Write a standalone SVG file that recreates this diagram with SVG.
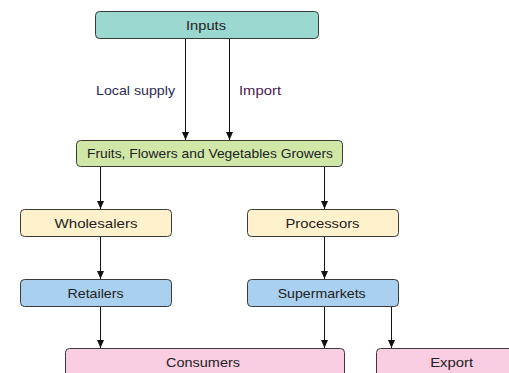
<svg xmlns="http://www.w3.org/2000/svg" width="509" height="373" viewBox="0 0 509 373">
<defs>
<marker id="arr" markerUnits="userSpaceOnUse" markerWidth="8" markerHeight="8" viewBox="0 0 8 8" refX="8" refY="4" orient="auto">
<path d="M0,0.5 L8,4 L0,7.5 Z" fill="#111"/>
</marker>
<style>
.box{stroke:#3a3a3a;stroke-width:1}
.t{font-family:"Liberation Sans",Arial,sans-serif;font-size:13px;fill:#222;text-anchor:middle}
.lbl{font-family:"Liberation Sans",Arial,sans-serif;font-size:13px}
.c{stroke:#111;stroke-width:1;fill:none;marker-end:url(#arr)}
</style>
</defs>
<rect width="509" height="373" fill="#fff"/>
<g id="connectors">
<line class="c" x1="185.5" y1="38.5" x2="185.5" y2="140"/>
<line class="c" x1="229.5" y1="38.5" x2="229.5" y2="140"/>
<line class="c" x1="100.5" y1="166.5" x2="100.5" y2="209"/>
<line class="c" x1="324.5" y1="166.5" x2="324.5" y2="209"/>
<line class="c" x1="100.5" y1="236.5" x2="100.5" y2="279"/>
<line class="c" x1="324.5" y1="236.5" x2="324.5" y2="279"/>
<line class="c" x1="100.5" y1="306.5" x2="100.5" y2="348"/>
<line class="c" x1="324.5" y1="306.5" x2="324.5" y2="348"/>
<line class="c" x1="391.5" y1="306.5" x2="391.5" y2="348"/>
<text class="lbl" x="96" y="94.5" fill="#2b2b55" textLength="79" lengthAdjust="spacingAndGlyphs">Local supply</text>
<text class="lbl" x="239" y="94.5" fill="#4a2050" textLength="42" lengthAdjust="spacingAndGlyphs">Import</text>
</g>
<g id="inputs">
<rect class="box" x="95.5" y="11.5" width="223" height="27" rx="4" fill="#9bd8cf"/>
<text class="t" x="206" y="29.7" textLength="40" lengthAdjust="spacingAndGlyphs">Inputs</text>
</g>
<g id="growers">
<rect class="box" x="76.5" y="140.5" width="266" height="26" rx="4" fill="#d1e7a8"/>
<text class="t" x="210" y="158" textLength="246" lengthAdjust="spacingAndGlyphs">Fruits, Flowers and Vegetables Growers</text>
</g>
<g id="wholesalers">
<rect class="box" x="20.5" y="209.5" width="151" height="27" rx="4" fill="#fff1cc"/>
<text class="t" x="96" y="227.5" textLength="83" lengthAdjust="spacingAndGlyphs">Wholesalers</text>
</g>
<g id="processors">
<rect class="box" x="247.5" y="209.5" width="151" height="27" rx="4" fill="#fff1cc"/>
<text class="t" x="322.5" y="227.5" textLength="74" lengthAdjust="spacingAndGlyphs">Processors</text>
</g>
<g id="retailers">
<rect class="box" x="20.5" y="279.5" width="151" height="27" rx="4" fill="#a9d0ef"/>
<text class="t" x="95.5" y="297.5" textLength="56" lengthAdjust="spacingAndGlyphs">Retailers</text>
</g>
<g id="supermarkets">
<rect class="box" x="247.5" y="279.5" width="151" height="27" rx="4" fill="#a9d0ef"/>
<text class="t" x="321.7" y="297.5" textLength="88" lengthAdjust="spacingAndGlyphs">Supermarkets</text>
</g>
<g id="consumers">
<rect class="box" x="65.5" y="348.5" width="279" height="40" rx="4" fill="#f9cde2"/>
<text class="t" x="203" y="366.5" textLength="74" lengthAdjust="spacingAndGlyphs">Consumers</text>
</g>
<g id="export">
<rect class="box" x="376.5" y="348.5" width="152" height="40" rx="4" fill="#f9cde2"/>
<text class="t" x="451.7" y="366.5" textLength="43" lengthAdjust="spacingAndGlyphs">Export</text>
</g>
</svg>
